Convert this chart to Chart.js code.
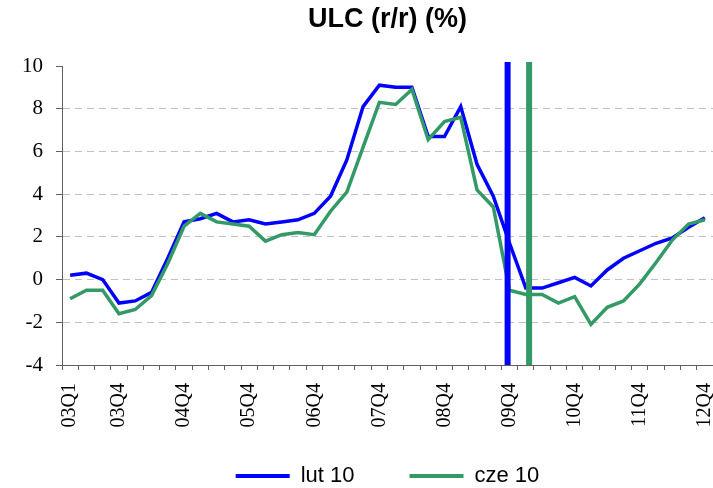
<!DOCTYPE html>
<html>
<head>
<meta charset="utf-8">
<script src="https://cdn.jsdelivr.net/npm/chart.js@4/dist/chart.umd.min.js"></script>
<style>
  html, body { margin: 0; padding: 0; background: #ffffff; }
  canvas { display: block; }
</style>
</head>
<body>
<canvas id="c" width="713" height="488"></canvas>
<script>
// ---- data ----
const quarters = [
  '03Q1','03Q2','03Q3','03Q4','04Q1','04Q2','04Q3','04Q4',
  '05Q1','05Q2','05Q3','05Q4','06Q1','06Q2','06Q3','06Q4',
  '07Q1','07Q2','07Q3','07Q4','08Q1','08Q2','08Q3','08Q4',
  '09Q1','09Q2','09Q3','09Q4','10Q1','10Q2','10Q3','10Q4',
  '11Q1','11Q2','11Q3','11Q4','12Q1','12Q2','12Q3','12Q4'
];
const shownLabels = ['03Q1','03Q4','04Q4','05Q4','06Q4','07Q4','08Q4','09Q4','10Q4','11Q4','12Q4'];
const lut10 = [
  0.2, 0.3, 0.0, -1.1, -1.0, -0.6, 1.0, 2.7, 2.85, 3.1,
  2.7, 2.8, 2.6, 2.7, 2.8, 3.1, 3.9, 5.6, 8.1, 9.1,
  9.0, 9.0, 6.7, 6.7, 8.1, 5.4, 3.9, 1.7, -0.4, -0.4,
  -0.15, 0.1, -0.3, 0.45, 1.0, 1.35, 1.7, 1.95, 2.45, 2.9
];
const cze10 = [
  -0.9, -0.5, -0.5, -1.6, -1.4, -0.75, 0.75, 2.5, 3.1, 2.7,
  2.6, 2.5, 1.8, 2.1, 2.2, 2.1, 3.2, 4.1, 6.2, 8.3,
  8.2, 8.9, 6.55, 7.4, 7.6, 4.2, 3.4, -0.5, -0.7, -0.7,
  -1.1, -0.8, -2.1, -1.3, -1.0, -0.2, 0.8, 1.85, 2.6, 2.8
];
// forecast start markers, in category-index units (lut 10, cze 10)
const forecastMarkers = [26.88, 28.2];
const seriesNames = ['lut 10', 'cze 10'];
const yTicks = { min: -4, max: 10, step: 2 };

const BLUE = '#0000ff';
const GREEN = '#339966';

const markerPlugin = {
  id: 'forecastMarkers',
  afterDatasetsDraw(chart) {
    const xs = chart.scales.x;
    const area = chart.chartArea;
    const ctx = chart.ctx;
    ctx.save();
    forecastMarkers.forEach((v, i) => {
      const px = xs.getPixelForValue(v);
      ctx.beginPath();
      ctx.strokeStyle = chart.data.datasets[i].borderColor;
      ctx.lineWidth = 6;
      ctx.moveTo(px, area.top - 4);
      ctx.lineTo(px, area.bottom);
      ctx.stroke();
    });
    ctx.restore();
  }
};

new Chart(document.getElementById('c'), {
  type: 'line',
  data: {
    labels: quarters,
    datasets: [
      { label: seriesNames[0], data: lut10, borderColor: BLUE, backgroundColor: BLUE,
        borderWidth: 3.5, pointRadius: 0, tension: 0, order: 1 },
      { label: seriesNames[1], data: cze10, borderColor: GREEN, backgroundColor: GREEN,
        borderWidth: 3.5, pointRadius: 0, tension: 0, order: 0 }
    ]
  },
  options: {
    responsive: false,
    animation: false,
    layout: { padding: 0 },
    plugins: {
      title: {
        display: true,
        text: 'ULC (r/r) (%)',
        fullSize: false,
        color: '#000000',
        font: { family: 'Liberation Sans, Arial, sans-serif', size: 27, weight: 'bold' },
        padding: { top: 3, bottom: 30.6 }
      },
      legend: {
        position: 'bottom',
        fullSize: false,
        maxHeight: 78,
        labels: {
          color: '#000000',
          font: { family: 'Liberation Sans, Arial, sans-serif', size: 22 },
          boxWidth: 54,
          boxHeight: 4,
          padding: 55,
          sort: (a, b) => a.datasetIndex - b.datasetIndex,
          generateLabels: (chart) =>
            Chart.defaults.plugins.legend.labels.generateLabels(chart).map(l => ({ ...l, lineWidth: 0 }))
        }
      },
      tooltip: { enabled: false }
    },
    scales: {
      x: {
        offset: true,
        afterFit: (s) => {
          s.height = 45;
          s.paddingLeft = 0;
          s.paddingRight = 0;
          s._computeLabelArea = () => undefined;
        },
        grid: { display: true, drawOnChartArea: false, drawTicks: true, tickLength: 5,
                offset: true, color: '#606060', tickColor: '#606060' },
        border: { display: true, color: '#606060', width: 1 },
        ticks: {
          autoSkip: false, maxRotation: 90, minRotation: 90, padding: 13,
          color: '#000000',
          font: { family: 'Liberation Serif, Times New Roman, serif', size: 20 },
          callback: function (val, idx) {
            const lab = quarters[idx];
            return shownLabels.includes(lab) ? lab : '';
          }
        }
      },
      y: {
        min: yTicks.min, max: yTicks.max,
        afterFit: (s) => { s.width = 62; },
        grid: {
          drawTicks: true, tickLength: 6,
          color: (ctx) => (ctx.tick && (ctx.tick.value === yTicks.max || ctx.tick.value === yTicks.min)) ? 'rgba(0,0,0,0)' : '#c0c0c0',
          tickColor: '#606060', tickBorderDash: [], borderDash: [7, 5]
        },
        border: { display: true, color: '#606060', width: 1, dash: [7, 5] },
        ticks: {
          stepSize: yTicks.step, padding: 13, color: '#000000',
          font: { family: 'Liberation Serif, Times New Roman, serif', size: 21 }
        }
      }
    }
  },
  plugins: [markerPlugin]
});
</script>
</body>
</html>
